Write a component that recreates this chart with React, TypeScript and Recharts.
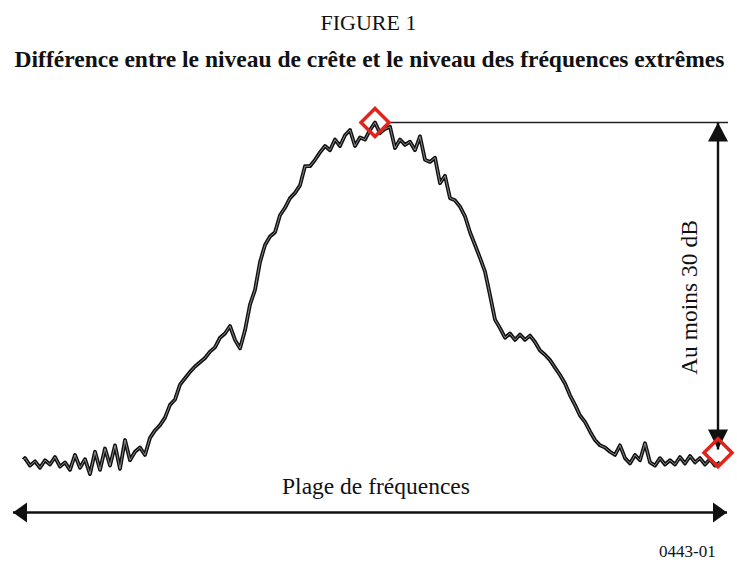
import React from "react";
import { LineChart, Line, XAxis, YAxis, ReferenceLine, ReferenceDot } from "recharts";

// spectrum level in dB relative to the peak, one sample per frequency bin
const levels = [
  -32.0, -31.5, -32.2, -31.8, -32.4, -31.7, -32.1, -31.4, -32.3, -31.9,
  -32.6, -31.2, -32.4, -31.6, -33.0, -30.9, -32.6, -30.6, -32.2, -30.3,
  -32.5, -29.8, -31.7, -30.9, -30.5, -31.2, -29.6, -28.9, -28.4, -27.7,
  -26.5, -26.0, -24.6, -24.0, -23.4, -22.9, -22.5, -22.1, -21.5, -21.1,
  -20.2, -19.8, -19.1, -20.4, -21.2, -19.5, -17.1, -15.7, -13.1, -11.5,
  -10.7, -10.3, -8.7, -8.0, -7.1, -6.6, -5.9, -4.1, -4.1, -3.5,
  -2.8, -2.2, -2.6, -1.6, -2.2, -1.2, -0.7, -2.2, -1.4, -1.6,
  -0.7, 0.0, -1.0, -0.6, -0.4, -2.4, -1.6, -2.1, -1.8, -2.6,
  -1.3, -3.5, -3.7, -3.3, -5.7, -5.0, -7.1, -7.3, -7.9, -8.8,
  -10.3, -11.5, -12.7, -14.0, -16.2, -18.5, -19.3, -20.2, -19.8, -20.4,
  -19.9, -20.4, -20.0, -20.6, -21.4, -21.8, -22.3, -23.0, -23.7, -24.5,
  -25.6, -26.5, -27.5, -28.1, -29.0, -29.8, -30.3, -30.5, -30.9, -31.2,
  -30.3, -31.5, -32.0, -31.2, -31.7, -30.1, -31.9, -32.2, -31.5, -32.1,
  -31.7, -32.1, -31.4, -32.0, -31.3, -31.9, -31.5, -32.1, -31.6, -32.2, -31.9,
];

const figureLabel = "FIGURE 1";
const title = "Différence entre le niveau de crête et le niveau des fréquences extrêmes";
const rangeLabel = "Plage de fréquences";
const spanLabel = "Au moins 30 dB";
const figureCode = "0443-01";

const rows = levels.map((level, bin) => ({ bin, level }));
const peakLevel = Math.max(...levels);
const peakBin = levels.indexOf(peakLevel);

const RED = "#e2231a";
const FONT = "'Liberation Serif', 'Times New Roman', serif";

// annotation anchors, in chart units (bins / dB)
const RANGE_Y = -36.6;
const RANGE_LEFT = -1.4;
const RANGE_RIGHT = 141.4;
const SPAN_X = 139.6;
const SPAN_LOW = -30.7;
const FLOOR_MARK = -31.0;
const PEAK_LINE_END = 141.6;

const Diamond = (p: any) => (
  <polygon
    points={`${p.cx},${p.cy - 14} ${p.cx + 14},${p.cy} ${p.cx},${p.cy + 14} ${p.cx - 14},${p.cy}`}
    fill="none"
    stroke={RED}
    strokeWidth={3.5}
  />
);
const ArrowUp = (p: any) => <polygon points={`${p.cx},${p.cy} ${p.cx - 10},${p.cy + 19} ${p.cx + 10},${p.cy + 19}`} fill="#111" />;
const ArrowDown = (p: any) => <polygon points={`${p.cx},${p.cy} ${p.cx - 10},${p.cy - 20} ${p.cx + 10},${p.cy - 20}`} fill="#111" />;
const ArrowLeft = (p: any) => <polygon points={`${p.cx},${p.cy} ${p.cx + 14},${p.cy - 10} ${p.cx + 14},${p.cy + 10}`} fill="#111" />;
const ArrowRight = (p: any) => <polygon points={`${p.cx},${p.cy} ${p.cx - 14},${p.cy - 10} ${p.cx - 14},${p.cy + 10}`} fill="#111" />;

export default function App() {
  return (
    <div style={{ position: "absolute", left: 0, top: 0, width: 737, height: 570, background: "#fff" }}>
      <LineChart width={737} height={570} data={rows} margin={{ top: 0, right: 0, bottom: 0, left: 0 }}>
        <XAxis dataKey="bin" type="number" domain={[-4, 143.4]} allowDataOverflow hide />
        <YAxis type="number" domain={[-42, 11.5]} allowDataOverflow hide />
        <Line dataKey="level" stroke="#111" strokeWidth={3.8} strokeLinejoin="round" dot={false} isAnimationActive={false} />
        <Line dataKey="level" stroke="#fff" strokeWidth={0.9} strokeOpacity={0.55} dot={false} isAnimationActive={false} />
        <ReferenceLine segment={[{ x: peakBin + 2.8, y: peakLevel }, { x: PEAK_LINE_END, y: peakLevel }]} stroke="#222" strokeWidth={1.6} />
        <ReferenceLine segment={[{ x: SPAN_X, y: peakLevel }, { x: SPAN_X, y: SPAN_LOW }]} stroke="#111" strokeWidth={2.4} />
        <ReferenceLine segment={[{ x: RANGE_LEFT, y: RANGE_Y }, { x: RANGE_RIGHT, y: RANGE_Y }]} stroke="#111" strokeWidth={2.6} />
        <ReferenceDot x={SPAN_X} y={peakLevel} shape={ArrowUp} />
        <ReferenceDot x={SPAN_X} y={SPAN_LOW} shape={ArrowDown} />
        <ReferenceDot x={RANGE_LEFT} y={RANGE_Y} shape={ArrowLeft} />
        <ReferenceDot x={RANGE_RIGHT} y={RANGE_Y} shape={ArrowRight} />
        <ReferenceDot x={peakBin} y={peakLevel} shape={Diamond} />
        <ReferenceDot x={SPAN_X} y={FLOOR_MARK} shape={Diamond} />
      </LineChart>
      <svg width={737} height={570} style={{ position: "absolute", left: 0, top: 0, pointerEvents: "none" }}>
        <g fontFamily={FONT} fill="#111">
          <text x={368.5} y={30} fontSize={22} textAnchor="middle">{figureLabel}</text>
          <text x={369.5} y={66.5} fontSize={23.5} fontWeight="bold" textAnchor="middle">{title}</text>
          <text x={376} y={494} fontSize={23.5} textAnchor="middle">{rangeLabel}</text>
          <text x={659} y={557} fontSize={17}>{figureCode}</text>
          <text transform="translate(697,297.5) rotate(-90)" fontSize={23.5} textAnchor="middle">{spanLabel}</text>
        </g>
      </svg>
    </div>
  );
}
